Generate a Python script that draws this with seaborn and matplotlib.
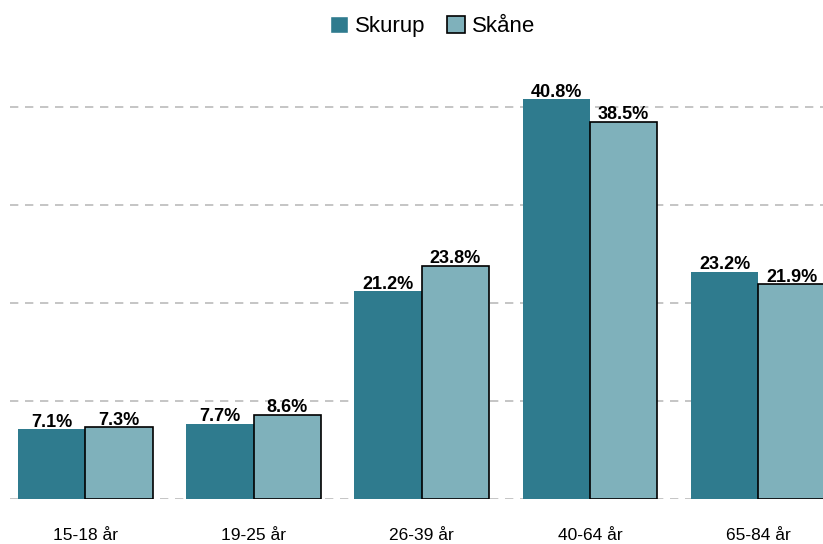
import pandas as pd
import matplotlib.pyplot as plt
import seaborn as sns

# Data
age_groups = ["15-18 år", "19-25 år", "26-39 år", "40-64 år", "65-84 år"]
skurup = [7.1, 7.7, 21.2, 40.8, 23.2]
skane = [7.3, 8.6, 23.8, 38.5, 21.9]

df = pd.DataFrame({
    "Ålder": age_groups * 2,
    "Andel": skurup + skane,
    "Område": ["Skurup"] * len(age_groups) + ["Skåne"] * len(age_groups),
})

sns.set_style("white")
plt.rcParams["font.family"] = ["Liberation Sans", "DejaVu Sans"]
plt.rcParams["text.color"] = "black"
plt.rcParams["xtick.color"] = "black"

fig = plt.figure(figsize=(8.23, 5.44), dpi=100)
ax = fig.add_axes([10 / 823, 45 / 544, 813 / 823, 441 / 544])

palette = {"Skurup": "#2f7b8e", "Skåne": "#7fb1bb"}
sns.barplot(data=df, x="Ålder", y="Andel", hue="Område", palette=palette,
            width=0.8, ax=ax, saturation=1, legend=True)

# Skurup bars without edge, Skåne with black edge
for cont, name in zip(ax.containers, ["Skurup", "Skåne"]):
    for bar in cont:
        if name == "Skåne":
            bar.set_edgecolor("black")
            bar.set_linewidth(1.2)
        else:
            bar.set_linewidth(0)
    ax.bar_label(cont, labels=[f"{v:.1f}%" for v in cont.datavalues],
                 fontsize=13, fontweight="bold", color="black", padding=-1)

ax.set_ylim(0, 45)
ax.set_xlim(-0.4475, 4.385)
ax.set_yticks([0, 10, 20, 30, 40])
ax.set_yticklabels([])
ax.yaxis.grid(True, linestyle=(0, (5, 4)), color="#bbbbbb", linewidth=1.2)
ax.set_axisbelow(True)
ax.tick_params(axis="x", length=0, labelsize=12.5, labelcolor="black", pad=21)
ax.tick_params(axis="y", length=0)
ax.set_xlabel("")
ax.set_ylabel("")
sns.despine(ax=ax, left=True, bottom=True)

handles, labels = ax.get_legend_handles_labels()
handles[1].set_edgecolor("black")
handles[1].set_linewidth(1.2)
ax.legend(handles, labels, loc="upper center", bbox_to_anchor=(0.52, 1.0 + 58 / 441),
          ncol=2, frameon=False, fontsize=16, handlelength=0.8, handleheight=0.8,
          handletextpad=0.3, columnspacing=1.0, borderpad=0.2)

fig.savefig("out.png", dpi=100)
